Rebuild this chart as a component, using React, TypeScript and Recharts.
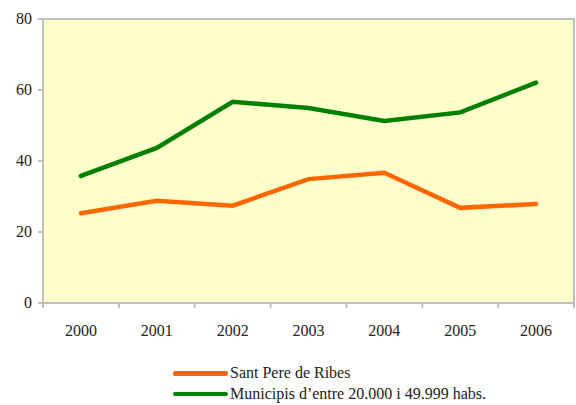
import { LineChart, Line, XAxis, YAxis, CartesianGrid, ReferenceArea } from 'recharts';

const YEARS = ['2000', '2001', '2002', '2003', '2004', '2005', '2006'];
const SANT_PERE = [25.3, 28.8, 27.4, 34.9, 36.7, 26.8, 27.9];
const MUNICIPIS = [35.8, 43.7, 56.7, 54.9, 51.3, 53.7, 62.1];
const Y_TICKS = [0, 20, 40, 60, 80];

const SERIES = [
  { key: 'santPere', name: 'Sant Pere de Ribes', color: '#ff6600', values: SANT_PERE },
  { key: 'municipis', name: 'Municipis d\u2019entre 20.000 i 49.999 habs.', color: '#008000', values: MUNICIPIS },
];

const WIDTH = 576;
const HEIGHT = 405;
const MARGIN = { top: 19, right: 2, bottom: 72, left: 0 };
const Y_AXIS_WIDTH = 43;
const BAND = (WIDTH - MARGIN.left - MARGIN.right - Y_AXIS_WIDTH) / YEARS.length;
const AXIS_COLOR = '#c0c0c0';
const FONT = '"Liberation Serif", "Times New Roman", serif';

const data = YEARS.map((year, i) => {
  const row: Record<string, string | number> = { year };
  SERIES.forEach((s) => {
    row[s.key] = s.values[i];
  });
  return row;
});

// category labels sit in the middle of each band, tick marks on the band edges
function YearTick(props: any) {
  const { x, y, payload, index } = props;
  const axisY = y - 7;
  const left = x - BAND / 2;
  const right = x + BAND / 2;
  return (
    <g>
      <line x1={left} x2={left} y1={axisY} y2={axisY + 5} stroke={AXIS_COLOR} strokeWidth={2} />
      {index === YEARS.length - 1 && (
        <line x1={right} x2={right} y1={axisY} y2={axisY + 5} stroke={AXIS_COLOR} strokeWidth={2} />
      )}
      <text x={x} y={y + 26} textAnchor="middle" fill="#222" fontFamily={FONT} fontSize={16}>
        {payload.value}
      </text>
    </g>
  );
}

function ValueTick(props: any) {
  const { x, y, payload } = props;
  return (
    <text x={x} y={y + 5} textAnchor="end" fill="#222" fontFamily={FONT} fontSize={16}>
      {payload.value}
    </text>
  );
}

export default function App() {
  return (
    <div
      style={{
        position: 'absolute',
        left: 0,
        top: 0,
        width: WIDTH,
        height: HEIGHT,
        background: '#fff',
        fontFamily: FONT,
      }}
    >
      <LineChart width={WIDTH} height={HEIGHT} data={data} margin={MARGIN}>
        <ReferenceArea y1={0} y2={80} fill="#ffffcc" fillOpacity={1} stroke={AXIS_COLOR} strokeWidth={2} />
        <CartesianGrid vertical={false} stroke={AXIS_COLOR} strokeWidth={2} fill="none" />
        <XAxis
          dataKey="year"
          scale="band"
          height={30}
          tickSize={5}
          tickMargin={2}
          tickLine={false}
          axisLine={{ stroke: AXIS_COLOR, strokeWidth: 2 }}
          tick={<YearTick />}
          interval={0}
        />
        <YAxis
          width={Y_AXIS_WIDTH}
          domain={[0, 80]}
          ticks={Y_TICKS}
          tickSize={5}
          tickMargin={6}
          tickLine={{ stroke: AXIS_COLOR, strokeWidth: 2 }}
          axisLine={{ stroke: AXIS_COLOR, strokeWidth: 2 }}
          tick={<ValueTick />}
        />
        {SERIES.map((s) => (
          <Line
            key={s.key}
            type="linear"
            dataKey={s.key}
            name={s.name}
            stroke={s.color}
            strokeWidth={4.5}
            strokeLinecap="round"
            dot={false}
            activeDot={false}
            isAnimationActive={false}
          />
        ))}
      </LineChart>
      <div style={{ position: 'absolute', left: 173, top: 363, fontSize: 16, color: '#222' }}>
        {SERIES.map((s) => (
          <div key={s.key} style={{ display: 'flex', alignItems: 'center', height: 20.5, whiteSpace: 'nowrap' }}>
            <span style={{ display: 'inline-block', width: 55, height: 4.5, borderRadius: 2, background: s.color, marginRight: 2 }} />
            <span>{s.name}</span>
          </div>
        ))}
      </div>
    </div>
  );
}
